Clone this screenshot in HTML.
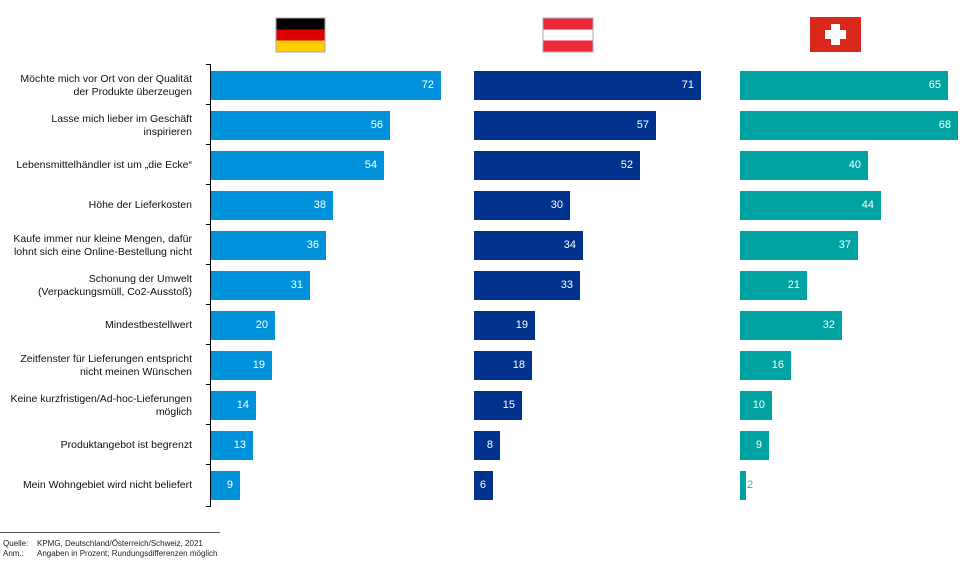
<!DOCTYPE html>
<html><head><meta charset="utf-8">
<style>
body{margin:0;width:962px;height:565px;background:#fff;position:relative;overflow:hidden;font-family:"Liberation Sans",Arial,sans-serif}
.b{position:absolute;height:29px}
.v{position:absolute;font-size:11px;color:#fff;line-height:29px;text-align:right}
.l{position:absolute;left:0;width:192px;height:29px;display:flex;align-items:center;justify-content:flex-end;text-align:right;font-size:10.5px;line-height:13px;color:#111}
.f{position:absolute;font-size:8px;color:#222}
</style></head><body>
<svg style="position:absolute;left:0;top:0" width="962" height="565">
<g><rect x="275.5" y="17.5" width="50" height="35" fill="#aaa"/><rect x="276.5" y="18.5" width="48" height="11" fill="#000"/><rect x="276.5" y="29.5" width="48" height="11" fill="#dd0000"/><rect x="276.5" y="40.5" width="48" height="11" fill="#ffce00"/></g>
<g><rect x="542.5" y="17.5" width="51" height="35" fill="#aaa"/><rect x="543.5" y="18.5" width="49" height="11" fill="#ed2939"/><rect x="543.5" y="29.5" width="49" height="11" fill="#fff"/><rect x="543.5" y="40.5" width="49" height="11" fill="#ed2939"/></g>
<g><rect x="810" y="17" width="51" height="35" fill="#da291c"/><rect x="831" y="24" width="9" height="21" fill="#fff"/><rect x="825" y="30" width="21" height="9" fill="#fff"/></g>
<line x1="210.5" y1="64" x2="210.5" y2="507" stroke="#000" stroke-width="1"/>
<g id="ticks" stroke="#000"></g>
<line x1="0" y1="532.5" x2="220" y2="532.5" stroke="#555"/>
</svg>
<div id="c"></div>
<div class="f" style="left:3px;top:539px">Quelle:</div><div class="f" style="left:37px;top:539px">KPMG, Deutschland/Österreich/Schweiz, 2021</div>
<div class="f" style="left:3px;top:549px">Anm.:</div><div class="f" style="left:37px;top:549px">Angaben in Prozent; Rundungsdifferenzen möglich</div>
<script>
var L=["Möchte mich vor Ort von der Qualität<br>der Produkte überzeugen","Lasse mich lieber im Geschäft<br>inspirieren","Lebensmittelhändler ist um „die Ecke“","Höhe der Lieferkosten","Kaufe immer nur kleine Mengen, dafür<br>lohnt sich eine Online-Bestellung nicht","Schonung der Umwelt<br>(Verpackungsmüll, Co2-Ausstoß)","Mindestbestellwert","Zeitfenster für Lieferungen entspricht<br>nicht meinen Wünschen","Keine kurzfristigen/Ad-hoc-Lieferungen<br>möglich","Produktangebot ist begrenzt","Mein Wohngebiet wird nicht beliefert"];
var D=[[72,56,54,38,36,31,20,19,14,13,9],[71,57,52,30,34,33,19,18,15,8,6],[65,68,40,44,37,21,32,16,10,9,2]];
var X=[211,474,740],C=["#0092db","#00338d","#00a3a1"],h="",t="";
for(var i=0;i<11;i++){var y=71+40*i;
h+='<div class="l" style="top:'+y+'px">'+L[i]+'</div>';
t+='<line x1="206" y1="'+(y-6.5)+'" x2="211" y2="'+(y-6.5)+'"/>';
for(var k=0;k<3;k++){var w=Math.round(D[k][i]*3.2);
h+='<div class="b" style="left:'+X[k]+'px;top:'+y+'px;width:'+w+'px;background:'+C[k]+'"></div>';
if(w>15)h+='<div class="v" style="left:'+X[k]+'px;top:'+y+'px;width:'+(w-7)+'px">'+D[k][i]+'</div>';
else h+='<div class="v" style="left:'+(X[k]+w+1)+'px;top:'+y+'px;color:#3aa9a8">'+D[k][i]+'</div>';}}
t+='<line x1="206" y1="506.5" x2="211" y2="506.5"/>';
document.getElementById("c").innerHTML=h;document.getElementById("ticks").innerHTML=t;
</script>
</body></html>
